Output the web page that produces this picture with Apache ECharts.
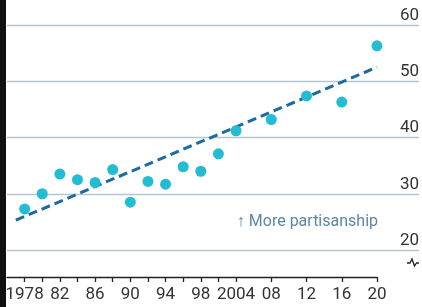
<!DOCTYPE html>
<html>
<head>
<meta charset="utf-8">
<script src="https://cdn.jsdelivr.net/npm/echarts@6/dist/echarts.min.js"></script>
<style>
  html, body { margin: 0; padding: 0; background: #fff; }
  #chart { width: 422px; height: 307px; }
</style>
</head>
<body>
<div id="chart"></div>
<script>
// survey years and share (%)
var years = [1978, 1980, 1982, 1984, 1986, 1988, 1990, 1992, 1994, 1996, 1998, 2000, 2004, 2008, 2012, 2016, 2020];
var values = [27.3, 30.0, 33.5, 32.5, 32.0, 34.3, 28.5, 32.2, 31.7, 34.8, 34.0, 37.1, 41.2, 43.2, 47.4, 46.3, 56.3];

// fitted trend, end points
var trendYears = [1977, 2020];
var trendValues = [25.3, 52.5];

var labelYears = [1978, 1982, 1986, 1990, 1994, 1998, 2004, 2008, 2012, 2016, 2020];
var labelTexts = ['1978', '82', '86', '90', '94', '98', '2004', '08', '12', '16', '20'];
var yTicks = [20, 30, 40, 50, 60];

// the axis skips 2002, so each year gets a slot
function slot(y) {
	return (y - 1978 - (y > 2000 ? 2 : 0)) / 2;
}

var font = 'Roboto, "Noto Sans", sans-serif';
var myChart = echarts.init(document.getElementById('chart'));

var option = {
	animation: false,
	grid: [
		{ left: 7, right: 3, top: 25, bottom: 57 },
		{ left: 7, right: 45, top: 25, bottom: 57 }
	],
	xAxis: [
		{ gridIndex: 0, type: 'value', min: 0, max: 1, show: false },
		{
			gridIndex: 1,
			type: 'value',
			min: -1,
			max: 20,
			offset: 27,
			splitLine: { show: false },
			axisLine: { show: true, onZero: false, lineStyle: { color: '#222', width: 1.3 } },
			axisTick: {
				show: true,
				length: 5,
				customValues: years.map(slot),
				lineStyle: { color: '#222', width: 1.3 }
			},
			axisLabel: {
				customValues: labelYears.map(slot),
				formatter: function(v) {
					for (var i = 0; i < labelYears.length; i++) {
						if (slot(labelYears[i]) === v) {
							return labelTexts[i];
						}
					}
					return '';
				},
				margin: 9,
				color: '#333',
				fontSize: 17,
				fontFamily: font
			}
		}
	],
	yAxis: [
		{
			gridIndex: 0,
			type: 'value',
			position: 'right',
			min: yTicks[0],
			max: yTicks[yTicks.length - 1],
			interval: 10,
			axisLine: { show: false },
			axisTick: { show: false },
			splitLine: { show: true, lineStyle: { color: '#b4c5d3', width: 1.3 } },
			axisLabel: {
				inside: true,
				margin: 0,
				align: 'right',
				verticalAlign: 'bottom',
				padding: [0, 0, 1, 0],
				color: '#333',
				fontSize: 17,
				fontFamily: font
			}
		},
		{ gridIndex: 1, type: 'value', min: yTicks[0], max: yTicks[yTicks.length - 1], show: false }
	],
	graphic: [
		{ type: 'rect', shape: { x: 0, y: 0, width: 6, height: 307 }, style: { fill: '#111' } },
		{
			type: 'polyline',
			shape: { points: [[407, 263], [410, 263], [412, 259], [414.5, 266], [416.5, 263], [419, 263]] },
			style: { stroke: '#222', lineWidth: 1.3, fill: null }
		},
		{
			type: 'text',
			x: 378,
			y: 222,
			style: {
				text: '↑ More partisanship',
				align: 'right',
				verticalAlign: 'middle',
				fill: '#5a86a6',
				fontSize: 16,
				fontFamily: font
			}
		}
	],
	series: [
		{
			type: 'line',
			xAxisIndex: 1,
			yAxisIndex: 1,
			data: trendYears.map(function(y, i) { return [slot(y), trendValues[i]]; }),
			symbol: 'none',
			lineStyle: { color: '#1d6aa2', width: 3, type: [9, 5] },
			z: 2
		},
		{
			type: 'scatter',
			xAxisIndex: 1,
			yAxisIndex: 1,
			data: years.map(function(y, i) { return [slot(y), values[i]]; }),
			symbolSize: 11,
			itemStyle: { color: '#22bcd3', opacity: 1 },
			z: 3
		}
	]
};
myChart.setOption(option);
</script>
</body>
</html>
